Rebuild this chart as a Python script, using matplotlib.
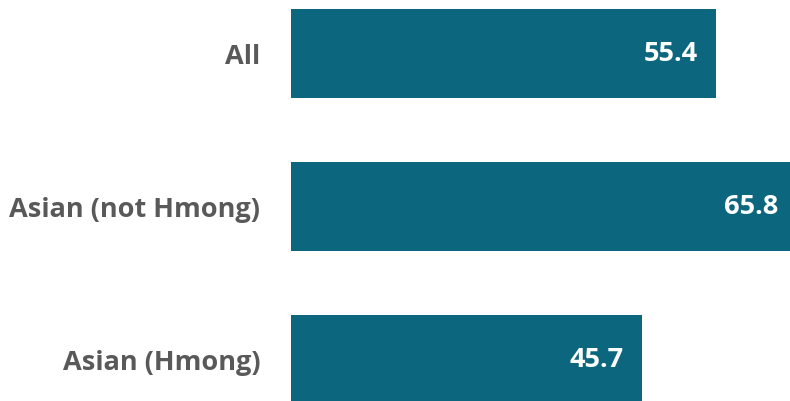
import matplotlib
matplotlib.use('Agg')
import matplotlib.pyplot as plt

categories = ['All', 'Asian (not Hmong)', 'Asian (Hmong)']
values = [55.4, 65.8, 45.7]

bar_color = '#0C677E'
label_color = '#595959'
font = ['Open Sans', 'DejaVu Sans']

fig = plt.figure(figsize=(7.9, 4.01), dpi=100)
ax = fig.add_axes([291/790, 0, 1 - 291/790, 1])

pos = list(range(len(categories)))
ax.barh(pos, values, height=0.58, color=bar_color)

ax.set_xlim(0, 65.0)
ax.set_ylim(2.271, -0.35)

for p, v in zip(pos, values):
    ax.annotate(f'{v:.1f}', xy=(v, p), xytext=(-13, 0), textcoords='offset points',
                ha='right', va='center', color='white', fontsize=19.5,
                fontweight='bold', family=font, annotation_clip=False)

ax.set_yticks(pos)
ax.set_yticklabels(categories, fontsize=19.5, fontweight='bold', color=label_color, family=font)
ax.tick_params(axis='y', length=0, pad=22)
ax.set_xticks([])
for s in ax.spines.values():
    s.set_visible(False)

plt.savefig('out.png', dpi=100)
